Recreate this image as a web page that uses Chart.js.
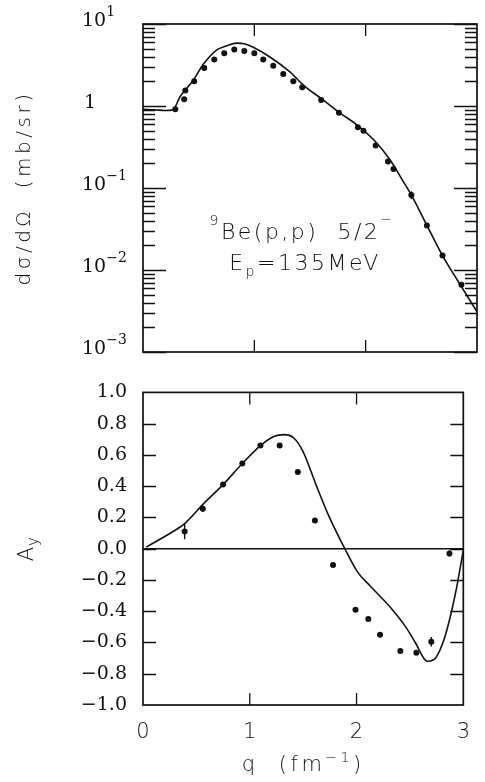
<!DOCTYPE html>
<html lang="en">
<head>
<meta charset="UTF-8">
<title>9Be(p,p) 5/2- at 135 MeV</title>
<script src="https://cdn.jsdelivr.net/npm/chart.js"></script>
<style>
  html, body { margin: 0; padding: 0; background: #fff; }
  body { width: 485px; height: 782px; position: relative; overflow: hidden; }
  .panel { position: absolute; left: 0; width: 485px; }
  #topPanel { top: 0; height: 365px; }
  #botPanel { top: 365px; height: 417px; }
</style>
</head>
<body>
<div class="panel" id="topPanel"><canvas id="xsecChart"></canvas></div>
<div class="panel" id="botPanel"><canvas id="ayChart"></canvas></div>
<script>
  const INK = '#111';

  // top panel: dsigma/dOmega (mb/sr) vs q (fm^-1), log scale
  const xsecCurveQ = [0, 0.1, 0.2, 0.27, 0.33, 0.38, 0.45, 0.54, 0.66, 0.75, 0.84, 0.92, 0.99, 1.14, 1.32, 1.44, 1.62, 1.77, 1.92, 2.07, 2.22, 2.33, 2.40, 2.55, 2.69, 2.85, 3.0];
  const xsecCurve  = [0.91, 0.9, 0.88, 0.9, 1.28, 1.57, 2.05, 3.2, 4.8, 5.4, 5.85, 5.7, 5.2, 3.96, 2.6, 1.8, 1.18, 0.82, 0.59, 0.39, 0.22, 0.125, 0.087, 0.035, 0.015, 0.0066, 0.0031];
  const xsecQ   = [0.29, 0.37, 0.38, 0.46, 0.55, 0.64, 0.73, 0.82, 0.91, 1.00, 1.08, 1.17, 1.26, 1.35, 1.43, 1.60, 1.76, 1.93, 1.98, 2.09, 2.20, 2.25, 2.41, 2.55, 2.69, 2.86];
  const xsecVal = [0.91, 1.21, 1.54, 2.0, 2.9, 3.7, 4.4, 4.9, 4.7, 4.4, 3.7, 3.1, 2.46, 2.0, 1.69, 1.18, 0.83, 0.55, 0.50, 0.33, 0.21, 0.17, 0.082, 0.035, 0.015, 0.0066];
  const xsecErr = [0, 0, 0, 0, 0, 0, 0, 0, 0, 0, 0, 0, 0, 0, 0, 0, 0, 0, 0, 0, 0, 0, 0.009, 0, 0, 0];
  const logDecades = [-3, -2, -1, 0, 1];

  // bottom panel: analyzing power A_y vs q
  const ayCurveQ = [0.03, 0.27, 0.39, 0.57, 0.75, 0.93, 1.10, 1.23, 1.32, 1.41, 1.50, 1.62, 1.74, 1.89, 2.01, 2.13, 2.31, 2.46, 2.55, 2.64, 2.67, 2.74, 2.82, 2.89, 2.94, 3.0];
  const ayCurve  = [0.01, 0.105, 0.16, 0.29, 0.41, 0.545, 0.66, 0.72, 0.73, 0.71, 0.62, 0.41, 0.21, 0.0, -0.15, -0.24, -0.37, -0.50, -0.60, -0.71, -0.72, -0.70, -0.58, -0.40, -0.24, -0.01];
  const ayQ   = [0.39, 0.56, 0.75, 0.93, 1.10, 1.28, 1.45, 1.61, 1.78, 1.99, 2.11, 2.22, 2.41, 2.56, 2.70, 2.87];
  const ayVal = [0.11, 0.255, 0.41, 0.545, 0.66, 0.66, 0.49, 0.18, -0.105, -0.39, -0.45, -0.55, -0.655, -0.665, -0.595, -0.03];
  const ayErr = [0.05, 0.02, 0, 0, 0, 0, 0, 0, 0, 0, 0, 0, 0, 0, 0.03, 0.02];

  const qTicks = [0, 1, 2, 3];

  const pairs = (xs, ys) => xs.map((x, i) => ({ x: x, y: ys[i] }));

  // draw a string made of pieces with different sizes / offsets (super/subscripts)
  function richText(ctx, parts, x, y, align, spacing) {
    ctx.letterSpacing = (spacing || 0) + 'px';
    let w = 0;
    parts.forEach(p => { ctx.font = p.font; p.w = ctx.measureText(p.t).width; w += p.w; });
    let cx = align === 'center' ? x - w / 2 : (align === 'right' ? x - w : x);
    parts.forEach(p => { ctx.font = p.font; ctx.fillText(p.t, cx, y + (p.dy || 0)); cx += p.w; });
    ctx.letterSpacing = '0px';
  }

  // box, inward ticks, error bars and hand-set labels
  const paperFrame = {
    id: 'paperFrame',
    afterDraw(chart, args, o) {
      const { ctx, chartArea: a } = chart;
      const x = chart.scales.x, y = chart.scales.y;
      ctx.save();
      ctx.strokeStyle = INK;
      ctx.fillStyle = INK;

      // error bars
      ctx.lineWidth = 1.4;
      ctx.beginPath();
      chart.data.datasets.forEach(ds => {
        if (!ds.errs) return;
        ds.data.forEach((p, j) => {
          const e = ds.errs[j];
          if (!e) return;
          const px = x.getPixelForValue(p.x);
          ctx.moveTo(px, y.getPixelForValue(p.y + e));
          ctx.lineTo(px, y.getPixelForValue(p.y - e));
        });
      });
      ctx.stroke();

      // frame
      ctx.lineWidth = 1.7;
      ctx.strokeRect(a.left, a.top, a.right - a.left, a.bottom - a.top);

      // inward ticks
      ctx.lineWidth = 1.3;
      ctx.beginPath();
      qTicks.slice(1, -1).forEach(q => {
        const px = x.getPixelForValue(q);
        ctx.moveTo(px, a.top); ctx.lineTo(px, a.top + 12);
        ctx.moveTo(px, a.bottom); ctx.lineTo(px, a.bottom - 12);
      });
      o.yTicks.forEach(t => {
        const py = Math.round(y.getPixelForValue(t.v)) + 0.5;
        ctx.moveTo(a.left, py); ctx.lineTo(a.left + t.len, py);
        ctx.moveTo(a.right, py); ctx.lineTo(a.right - t.len, py);
      });
      ctx.stroke();

      if (o.zeroLine) {
        const py = y.getPixelForValue(0);
        ctx.lineWidth = 1.5;
        ctx.beginPath();
        ctx.moveTo(a.left, py); ctx.lineTo(a.right, py);
        ctx.stroke();
      }

      if (o.draw) o.draw(ctx, chart);
      ctx.restore();
    }
  };

  const SERIF = '"DejaVu Serif", serif';
  const SANS = '"DejaVu Sans", sans-serif';

  // log tick marks: long at decades, short at 2..9
  const logTickMarks = [];
  logDecades.forEach(d => {
    logTickMarks.push({ v: Math.pow(10, d), len: 23 });
    if (d < logDecades[logDecades.length - 1]) {
      for (let m = 2; m <= 9; m++) logTickMarks.push({ v: m * Math.pow(10, d), len: 12 });
    }
  });

  const ayTickMarks = [];
  for (let k = -4; k <= 4; k++) ayTickMarks.push({ v: k / 5, len: 13 });

  const xsecChart = new Chart(document.getElementById('xsecChart'), {
    type: 'line',
    data: {
      datasets: [
        {
          label: 'data',
          data: pairs(xsecQ, xsecVal),
          errs: xsecErr,
          showLine: false,
          pointRadius: 3,
          pointBackgroundColor: INK,
          pointBorderWidth: 0
        },
        {
          label: 'theory',
          data: pairs(xsecCurveQ, xsecCurve),
          borderColor: INK,
          borderWidth: 1.6,
          pointRadius: 0,
          cubicInterpolationMode: 'monotone',
          fill: false
        }
      ]
    },
    options: {
      responsive: true,
      maintainAspectRatio: false,
      animation: false,
      events: [],
      layout: { padding: { left: 143, right: 8, top: 24, bottom: 13 } },
      plugins: {
        legend: { display: false },
        tooltip: { enabled: false },
        paperFrame: {
          yTicks: logTickMarks,
          draw(ctx, chart) {
            const y = chart.scales.y;
            ctx.textBaseline = 'alphabetic';
            logDecades.forEach(d => {
              const py = y.getPixelForValue(Math.pow(10, d));
              if (d === 0) {
                richText(ctx, [{ t: '1', font: '19px ' + SERIF }], 84, py + 2, 'left');
              } else {
                richText(ctx, [
                  { t: '10', font: '19px ' + SERIF },
                  { t: d < 0 ? '\u2212' + (-d) : String(d), font: '14px ' + SERIF, dy: -10 }
                ], 82, py + 2, 'left');
              }
            });
            // y title
            ctx.save();
            ctx.translate(25, (chart.chartArea.top + chart.chartArea.bottom) / 2);
            ctx.rotate(-Math.PI / 2);
            ctx.textBaseline = 'middle';
            richText(ctx, [{ t: 'd\u03c3/d\u03a9  (mb/sr)', font: '200 20px ' + SANS }], 0, 0, 'center', 3.5);
            ctx.restore();
            // reaction label
            ctx.textBaseline = 'alphabetic';
            richText(ctx, [
              { t: '9', font: '200 14px ' + SANS, dy: -14 },
              { t: 'Be(p,p)  5/2', font: '200 22px ' + SANS },
              { t: '\u2212', font: '200 14px ' + SANS, dy: -15 }
            ], 302, 239, 'center', 2.5);
            richText(ctx, [
              { t: 'E', font: '200 22px ' + SANS },
              { t: 'p', font: '200 14px ' + SANS, dy: 6 },
              { t: '=135MeV', font: '200 22px ' + SANS }
            ], 305, 270, 'center', 2.5);
          }
        }
      },
      scales: {
        x: { type: 'linear', min: 0, max: 3, display: false },
        y: { type: 'logarithmic', min: 1e-3, max: 10, display: false }
      }
    },
    plugins: [paperFrame]
  });

  const ayChart = new Chart(document.getElementById('ayChart'), {
    type: 'line',
    data: {
      datasets: [
        {
          label: 'data',
          data: pairs(ayQ, ayVal),
          errs: ayErr,
          showLine: false,
          pointRadius: 3,
          pointBackgroundColor: INK,
          pointBorderWidth: 0
        },
        {
          label: 'theory',
          data: pairs(ayCurveQ, ayCurve),
          borderColor: INK,
          borderWidth: 1.6,
          pointRadius: 0,
          cubicInterpolationMode: 'monotone',
          fill: false
        }
      ]
    },
    options: {
      responsive: true,
      maintainAspectRatio: false,
      animation: false,
      events: [],
      layout: { padding: { left: 0, right: 8, top: 12, bottom: 0 } },
      plugins: {
        legend: { display: false },
        tooltip: { enabled: false },
        paperFrame: {
          yTicks: ayTickMarks,
          zeroLine: true,
          draw(ctx, chart) {
            const a = chart.chartArea;
            ctx.save();
            ctx.translate(25, (a.top + a.bottom) / 2);
            ctx.rotate(-Math.PI / 2);
            ctx.textBaseline = 'alphabetic';
            richText(ctx, [
              { t: 'A', font: '200 21px ' + SANS },
              { t: 'y', font: '200 15px ' + SANS, dy: 5 }
            ], 0, 8, 'center', 1);
            ctx.restore();
            ctx.textBaseline = 'alphabetic';
            richText(ctx, [
              { t: 'q  (fm', font: '200 21px ' + SANS },
              { t: '\u22121', font: '200 14px ' + SANS, dy: -9 },
              { t: ')', font: '200 21px ' + SANS }
            ], (a.left + a.right) / 2, 406, 'center', 3.5);
          }
        }
      },
      scales: {
        x: {
          type: 'linear', min: 0, max: 3,
          afterBuildTicks: s => { s.ticks = qTicks.map(v => ({ value: v })); },
          afterFit: s => { s.height = 77; },
          grid: { display: false, drawTicks: false },
          border: { display: false },
          ticks: { color: INK, padding: 15, maxRotation: 0, font: { family: SANS, size: 21, weight: 300 } }
        },
        y: {
          type: 'linear', min: -1, max: 1,
          afterFit: s => { s.width = 143; },
          grid: { display: false, drawTicks: false },
          border: { display: false },
          ticks: {
            stepSize: 0.2,
            color: INK,
            padding: 16,
            font: { family: SERIF, size: 19 },
            callback: v => Math.abs(v) < 1e-9 ? '0.0' : (v < 0 ? '\u2212' : '') + Math.abs(v).toFixed(1)
          }
        }
      }
    },
    plugins: [paperFrame]
  });
</script>
</body>
</html>
